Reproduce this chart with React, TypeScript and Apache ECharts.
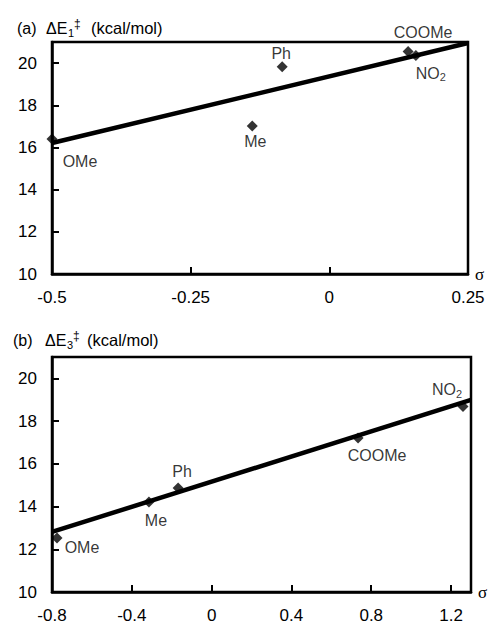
import React, { useEffect, useRef } from "react";
import * as echarts from "echarts";

// ---- Panel (a) data ----
const namesA = ["OMe", "Me", "Ph", "COOMe", "NO2"];
const sigmaA = [-0.5, -0.139, -0.085, 0.142, 0.156];
const energyA = [16.4, 17.02, 19.83, 20.55, 20.36];
const fitSigmaA = [-0.5, 0.25];
const fitEnergyA = [16.21, 20.95];

// ---- Panel (b) data ----
const namesB = ["OMe", "Me", "Ph", "COOMe", "NO2"];
const sigmaB = [-0.775, -0.314, -0.168, 0.734, 1.26];
const energyB = [12.53, 14.21, 14.87, 17.21, 18.68];
const fitSigmaB = [-0.8, 1.3];
const fitEnergyB = [12.81, 18.99];

// axis ranges / tick steps
const xRangeA = [-0.5, 0.25];
const xStepA = 0.25;
const xRangeB = [-0.8, 1.3];
const xStepB = 0.4;
const yRange = [10, 21];
const yStep = 2;

// label placement (style)
const offsetsA: Record<string, number[]> = {
  OMe: [28, 22],
  Me: [3, 16],
  Ph: [-1, -13],
  COOMe: [15, -19],
  NO2: [15, 18],
};
const offsetsB: Record<string, number[]> = {
  OMe: [25, 10],
  Me: [7, 18],
  Ph: [4, -16],
  COOMe: [19, 18],
  NO2: [-16, -17],
};

const FONT = "Liberation Sans";

function labelText(name: string) {
  if (name === "NO2") return "{t|NO}{s|2}";
  return "{t|" + name + "}";
}

function scatterSeries(names: string[], xs: number[], ys: number[], offs: Record<string, number[]>, idx: number) {
  return {
    type: "scatter",
    xAxisIndex: idx,
    yAxisIndex: idx,
    symbol: "diamond",
    symbolSize: 11,
    z: 3,
    itemStyle: { color: "#000" },
    data: names.map((n, i) => ({
      name: n,
      value: [xs[i], ys[i]],
      label: { offset: offs[n] },
    })),
    label: {
      show: true,
      position: "inside",
      color: "#000",
      formatter: (p: any) => labelText(p.name),
      rich: {
        t: { fontSize: 16, fontFamily: FONT, color: "#000" },
        s: { fontSize: 11, fontFamily: FONT, color: "#000", padding: [8, 0, 0, 0] },
      },
    },
  };
}

function lineSeries(xs: number[], ys: number[], idx: number) {
  return {
    type: "line",
    xAxisIndex: idx,
    yAxisIndex: idx,
    symbol: "none",
    z: 2,
    lineStyle: { color: "#000", width: 4.5 },
    data: xs.map((x, i) => [x, ys[i]]),
  };
}

function xAxis(range: number[], step: number, idx: number) {
  return {
    type: "value",
    gridIndex: idx,
    min: range[0],
    max: range[1],
    interval: step,
    name: "σ",
    nameLocation: "end",
    nameGap: 7,
    nameTextStyle: { fontFamily: "Liberation Serif", fontSize: 17, color: "#000", verticalAlign: "middle" },
    axisLine: { show: true, onZero: false, lineStyle: { color: "#000", width: 2.5 } },
    axisTick: { show: true, inside: true, length: 7, lineStyle: { color: "#000", width: 2 } },
    axisLabel: { fontSize: 17, fontFamily: FONT, color: "#000", margin: 15, showMaxLabel: idx === 0 },
    splitLine: { show: false },
  };
}

function yAxis(idx: number) {
  return {
    type: "value",
    gridIndex: idx,
    min: yRange[0],
    max: yRange[1],
    interval: yStep,
    axisLine: { show: true, onZero: false, lineStyle: { color: "#000", width: 2.5 } },
    axisTick: { show: true, inside: true, length: 7, lineStyle: { color: "#000", width: 2 } },
    axisLabel: { fontSize: 17, fontFamily: FONT, color: "#000", margin: 15, showMaxLabel: false },
    splitLine: { show: false },
  };
}

function titleGroup(letter: string, sub: string, x0: number, y: number, xs: number[]) {
  const base = { fontFamily: FONT, fill: "#000", verticalAlign: "middle" };
  return [
    { type: "text", x: x0, y, style: { ...base, text: letter, fontSize: 16 } },
    { type: "text", x: xs[0], y, style: { ...base, text: "ΔE", fontSize: 16 } },
    { type: "text", x: xs[1], y: y + 5, style: { ...base, text: sub, fontSize: 11 } },
    { type: "text", x: xs[2], y: y - 4, style: { ...base, text: "‡", fontSize: 12 } },
    { type: "text", x: xs[3], y, style: { ...base, text: "(kcal/mol)", fontSize: 16.5 } },
  ];
}

export default function App() {
  const ref = useRef<HTMLDivElement>(null);
  useEffect(() => {
    if (!ref.current) return;
    const chart = echarts.init(ref.current, undefined, { renderer: "svg" });
    chart.setOption({
      animation: false,
      backgroundColor: "#fff",
      grid: [
        { left: 52, top: 42, width: 416, height: 232, show: true, borderColor: "#000", borderWidth: 2.5, backgroundColor: "transparent" },
        { left: 52, top: 357, width: 419, height: 235, show: true, borderColor: "#000", borderWidth: 2.5, backgroundColor: "transparent" },
      ],
      xAxis: [xAxis(xRangeA, xStepA, 0), xAxis(xRangeB, xStepB, 1)],
      yAxis: [yAxis(0), yAxis(1)],
      series: [
        lineSeries(fitSigmaA, fitEnergyA, 0),
        scatterSeries(namesA, sigmaA, energyA, offsetsA, 0),
        lineSeries(fitSigmaB, fitEnergyB, 1),
        scatterSeries(namesB, sigmaB, energyB, offsetsB, 1),
      ],
      graphic: [
        ...titleGroup("(a)", "1", 17, 28, [46, 68, 74, 91]),
        ...titleGroup("(b)", "3", 13, 340, [45, 67, 73, 87]),
      ],
    });
    return () => chart.dispose();
  }, []);
  return (
    <div
      ref={ref}
      style={{ position: "fixed", left: 0, top: 0, width: 491, height: 627 }}
    />
  );
}
